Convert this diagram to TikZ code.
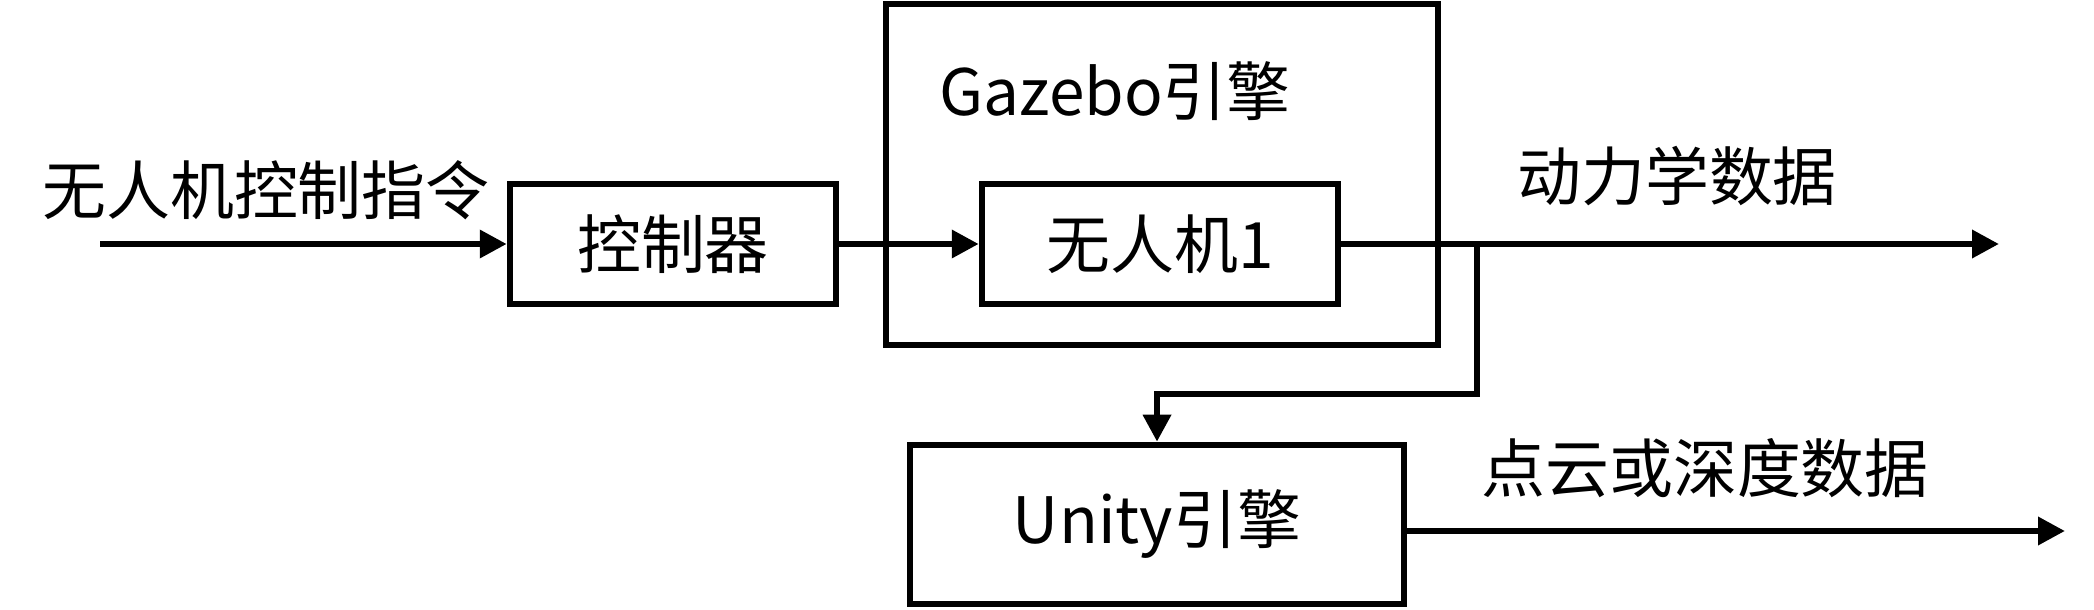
\documentclass[tikz,border=0pt]{standalone}
\usepackage{fontspec}
\usepackage{tikz}
\newfontfamily\cjk{Noto Sans CJK SC}
\usetikzlibrary{shapes,arrows.meta,positioning,calc}

\begin{document}
\begin{tikzpicture}[x=1cm, y=1cm]
  \tikzstyle{block}=[rectangle, draw=black, line width=0.065cm, font=\cjk\fontsize{18.2pt}{22pt}\selectfont, align=center, inner sep=0pt]
  \tikzstyle{label}=[font=\cjk\fontsize{18.2pt}{22pt}\selectfont, inner sep=0pt]
  \tikzstyle{flow}=[-{Triangle[length=0.27cm, width=0.27cm]}, line width=0.065cm]

  \useasboundingbox (0,0) rectangle (20.94,-6.10);

  % 仿真模块
  \node[block, minimum width=5.52cm, minimum height=3.41cm] (gazebo) at (11.62,-1.745) {};
  \node[label] (gzlabel) at (11.15,-0.91) {Gazebo引擎};
  \node[block, minimum width=3.26cm, minimum height=1.20cm] (ctrl) at (6.73,-2.44) {控制器};
  \node[block, minimum width=3.56cm, minimum height=1.20cm] (uav) at (11.60,-2.44) {无人机1};
  \node[block, minimum width=4.94cm, minimum height=1.59cm] (unity) at (11.57,-5.245) {Unity引擎};

  % 端点
  \coordinate (cmdstart) at (1.00,-2.44);
  \coordinate (split) at (14.77,-2.44);
  \coordinate (dynend) at (19.99,-2.44);
  \coordinate (pcend) at (20.65,-5.31);

  % 连线
  \draw[flow] (cmdstart) -- (ctrl.west);
  \draw[flow] (ctrl) -- (uav);
  \draw[flow] (uav.east) -- (dynend);
  \draw[flow] (split) -- ++(0,-1.50) -| (unity.north);
  \draw[flow] ([yshift=-0.065cm]unity.east) -- (pcend);

  % 标签
  \node[label] (cmd) at (2.66,-1.90) {无人机控制指令};
  \node[label] (dyn) at (16.77,-1.76) {动力学数据};
  \node[label] (pc) at (17.05,-4.68) {点云或深度数据};
\end{tikzpicture}
\end{document}
